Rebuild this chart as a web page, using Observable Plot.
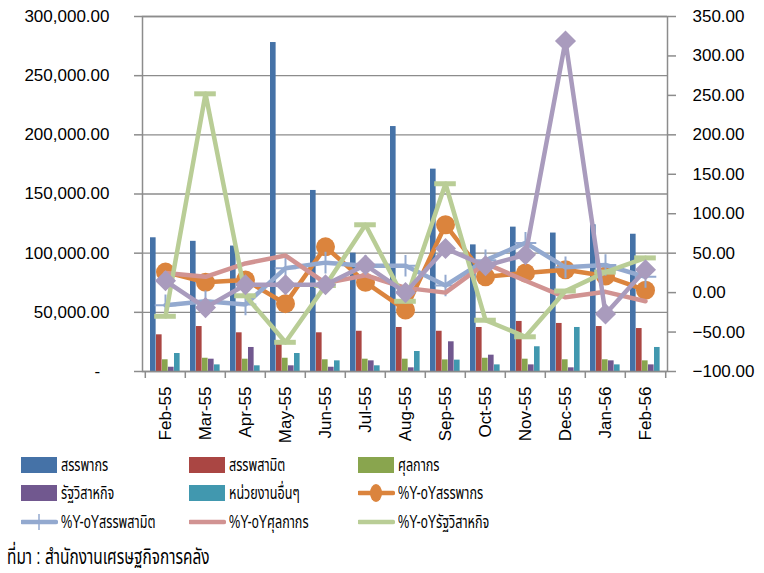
<!DOCTYPE html>
<html>
<head>
<meta charset="utf-8">
<script src="https://cdn.jsdelivr.net/npm/d3@7"></script>
<script src="https://cdn.jsdelivr.net/npm/@observablehq/plot@0.6"></script>
<style>
  body { margin: 0; background: #fff; width: 764px; height: 573px; position: relative; overflow: hidden;
         font-family: "Liberation Sans", Arial, sans-serif; }
  #chart { position: absolute; left: 0; top: 0; }
  #chart svg text { font-family: "Liberation Sans", Arial, sans-serif; }
  .leg { position: absolute; font-size: 18px; color: #000; display: flex; align-items: center; white-space: nowrap;
         font-family: "Liberation Sans", Arial, "Noto Sans Thai", "Loma", "Garuda", sans-serif; }
  .leg svg { margin-right: 3px; flex: none; }
  .leg span { display: inline-block; transform: scaleX(0.7); transform-origin: left center; }
  #source { position: absolute; left: 7px; top: 541px; font-size: 22px; white-space: nowrap;
         transform: scaleX(0.7); transform-origin: left center;
         font-family: "Liberation Sans", Arial, "Noto Sans Thai", "Loma", "Garuda", sans-serif; }
</style>
</head>
<body>
<div id="chart"></div>
<div id="legend"></div>
<div id="source">ที่มา : สำนักงานเศรษฐกิจการคลัง</div>
<script>
// ---- data ----
const months = ["Feb-55","Mar-55","Apr-55","May-55","Jun-55","Jul-55","Aug-55","Sep-55","Oct-55","Nov-55","Dec-55","Jan-56","Feb-56"];
const barNames = ["สรรพากร","สรรพสามิต","ศุลกากร","รัฐวิสาหกิจ","หน่วยงานอื่นๆ"];
const revenueDept = [113000,110000,106000,278000,153000,100000,207000,171000,107000,122000,117000,124000,116000];
const exciseDept  = [31000,38000,32700,24000,32700,34000,37200,34000,37200,42300,40600,38000,36300];
const customsDept = [9900,11200,10400,11200,9900,10400,10400,9800,11200,10400,9900,9900,9000];
const stateEnt    = [3600,10400,20300,4800,3600,9000,3100,25100,13800,5600,3100,9000,5600];
const otherAgency = [15200,5600,4800,15200,9000,4800,16900,9600,5600,20900,37200,5600,20300];

const lineNames = ["%Y-oYสรรพากร","%Y-oYสรรพสามิต","%Y-oYศุลกากร","%Y-oYรัฐวิสาหกิจ","%Y-oYหน่วยงานอื่นๆ"];
const yoyRevenue = [26,13,16,-14,58,13,-22,86,20,25,29,21,3];
const yoyExcise  = [-16,-11,-15,31,38,34,34,9,41,63,32,35,20];
const yoyCustoms = [25,20,37,47,12,22,6,0,37,15,-6,1,-11];
const yoyState   = [-30,252,-4,-63,9,86,-11,138,-35,-56,2,26,44];
const yoyOther   = [15,-19,10,10,10,35,0,56,34,48,319,-27,29];

const leftTicks = [0,50000,100000,150000,200000,250000,300000];
const rightTicks = [-100,-50,0,50,100,150,200,250,300,350];

// ---- styles ----
const barColors = ["#4572A7","#AA4643","#89A54E","#71588F","#4198AF"];
const lineColors = ["#DB843D","#93A9CF","#D19392","#B9CD96","#A99BBD"];

const W = 764, H = 445, mL = 142, mR = 97, mT = 16, mB = 74;
const bw = (W - mL - mR) / months.length;

// right axis mapping: -100..350 => 0..300000
const toLeft = v => (v + 100) / 450 * 300000;
const fromLeft = u => u / 300000 * 450 - 100;

const barSeries = [revenueDept, exciseDept, customsDept, stateEnt, otherAgency];
const lineSeries = [yoyRevenue, yoyExcise, yoyCustoms, yoyState, yoyOther];

const fmt2 = d3.format(",.2f");
const grid = "#8c8c8c";
const FS = 17;

const marks = [];
marks.push(Plot.gridY(leftTicks, {stroke: grid, strokeOpacity: 1, strokeWidth: 1.3}));

barSeries.forEach((vals, i) => {
  const data = months.map((m, j) => ({m, v: vals[j]}));
  marks.push(Plot.barY(data, {x: "m", y: "v", fill: barColors[i],
    insetLeft: 5 + 6 * i, insetRight: bw - (5 + 6 * (i + 1))}));
});

lineSeries.forEach((vals, i) => {
  const data = months.map((m, j) => ({m, v: toLeft(vals[j])}));
  marks.push(Plot.line(data, {x: "m", y: "v", stroke: lineColors[i], strokeWidth: 4.5, strokeLinejoin: "round"}));
  if (i === 0) marks.push(Plot.dot(data, {x: "m", y: "v", r: 9.5, fill: lineColors[i]}));
  if (i === 1) marks.push(Plot.dot(data, {x: "m", y: "v", r: 7, symbol: "plus", stroke: lineColors[i], strokeWidth: 2}));
  if (i === 3) marks.push(Plot.tickY(data, {x: "m", y: "v", stroke: lineColors[i], strokeWidth: 5, insetLeft: bw/2 - 11, insetRight: bw/2 - 11}));
  if (i === 4) marks.push(Plot.dot(data, {x: "m", y: "v", r: 9.5, symbol: "diamond2", fill: lineColors[i]}));
});

marks.push(Plot.frame({stroke: grid, strokeWidth: 1.5}));
// bottom category boundary ticks
marks.push(Plot.ruleX(months, {x: d => d, dx: -bw/2, stroke: grid, strokeWidth: 1.5, insetTop: H - mT - mB, insetBottom: -7}));
marks.push(Plot.ruleX([months[months.length-1]], {x: d => d, dx: bw/2, stroke: grid, strokeWidth: 1.5, insetTop: H - mT - mB, insetBottom: -7}));

marks.push(Plot.axisY(leftTicks, {anchor: "left", tickSize: 8, tickPadding: 25, stroke: grid, strokeWidth: 1.5,
  tickFormat: d => d === 0 ? "-\u2007" : fmt2(d), fontSize: FS, fill: "#000"}));
marks.push(Plot.axisY(rightTicks.map(toLeft), {anchor: "right", tickSize: 8, tickPadding: 17, stroke: grid, strokeWidth: 1.5,
  tickFormat: d => fmt2(Math.round(fromLeft(d))), fontSize: FS, fill: "#000", textAnchor: "start"}));
marks.push(Plot.axisX({tickSize: 0, tickRotate: -90, tickPadding: 15, fontSize: FS, fill: "#000"}));

const chart = Plot.plot({
  width: W, height: H,
  marginLeft: mL, marginRight: mR, marginTop: mT, marginBottom: mB,
  style: {fontFamily: "'Liberation Sans', Arial, sans-serif", background: "#fff"},
  x: {type: "band", domain: months, padding: 0, label: null},
  y: {domain: [0, 300000], label: null},
  marks
});
document.getElementById("chart").append(chart);

// ---- legend ----
const legendItems = [
  {name: barNames[0], type: "bar", color: barColors[0]},
  {name: barNames[1], type: "bar", color: barColors[1]},
  {name: barNames[2], type: "bar", color: barColors[2]},
  {name: barNames[3], type: "bar", color: barColors[3]},
  {name: barNames[4], type: "bar", color: barColors[4]},
  {name: lineNames[0], type: "circle", color: lineColors[0]},
  {name: lineNames[1], type: "plus", color: lineColors[1]},
  {name: lineNames[2], type: "line", color: lineColors[2]},
  {name: lineNames[3], type: "line", color: lineColors[3]}
];
const colX = [21, 189, 358], rowY = [465, 493, 522];
const legend = document.getElementById("legend");
legendItems.forEach((it, k) => {
  const div = document.createElement("div");
  div.className = "leg";
  div.style.left = colX[k % 3] + "px";
  div.style.top = (rowY[Math.floor(k / 3)] - 12) + "px";
  div.style.height = "24px";
  let sw;
  if (it.type === "bar") sw = `<svg width="37" height="24"><rect x="0" y="4" width="36" height="16" fill="${it.color}"/></svg>`;
  else if (it.type === "circle") sw = `<svg width="37" height="24"><line x1="1" y1="12" x2="35" y2="12" stroke="${it.color}" stroke-width="4.5" stroke-linecap="round"/><ellipse cx="18" cy="12" rx="6" ry="9" fill="${it.color}"/></svg>`;
  else if (it.type === "plus") sw = `<svg width="37" height="24"><line x1="1" y1="12" x2="35" y2="12" stroke="${it.color}" stroke-width="4.5" stroke-linecap="round"/><line x1="18" y1="4" x2="18" y2="20" stroke="${it.color}" stroke-width="1.5"/></svg>`;
  else sw = `<svg width="37" height="24"><line x1="1" y1="12" x2="35" y2="12" stroke="${it.color}" stroke-width="4.5" stroke-linecap="round"/></svg>`;
  div.innerHTML = sw + `<span>${it.name}</span>`;
  legend.append(div);
});
</script>
</body>
</html>
